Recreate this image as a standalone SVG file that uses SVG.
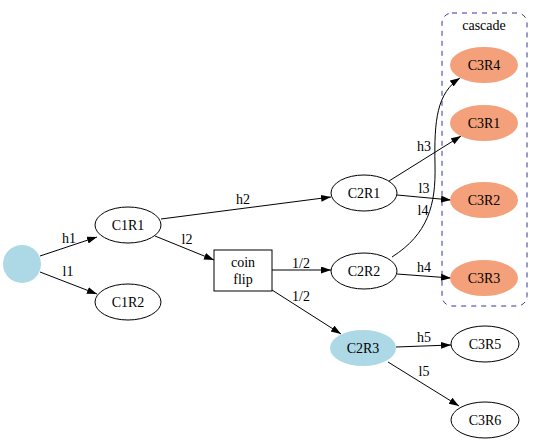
<svg xmlns="http://www.w3.org/2000/svg" width="540" height="445" viewBox="0 0 540 445" font-family="'Liberation Serif', 'Times New Roman', 'DejaVu Serif', serif">
<style>
text{font-family:'Liberation Serif','Times New Roman','DejaVu Serif',serif;font-size:14px;fill:#000;text-anchor:middle;dominant-baseline:central}
.n{fill:#fff;stroke:#000;stroke-width:1}
.o{fill:#f4a07a;stroke:none}
.b{fill:#add8e6;stroke:none}
.e{fill:none;stroke:#000;stroke-width:1;marker-end:url(#a)}
</style>
<defs>
<marker id="a" markerUnits="userSpaceOnUse" markerWidth="11" markerHeight="8" refX="10" refY="3.5" orient="auto"><path d="M0,0L10,3.5L0,7z" fill="#000"/></marker>
</defs>
<g id="cluster_cascade">
<rect x="442" y="13" width="85" height="293" rx="10" fill="none" stroke="#3535a0" stroke-dasharray="5,5"/>
<text x="484" y="25">cascade</text>
</g>
<g id="connectors">
<path class="e" d="M40,256L97,237"/>
<text x="69" y="238">h1</text>
<path class="e" d="M40,272L97,294"/>
<text x="68" y="271">l1</text>
<path class="e" d="M161,219L331,197"/>
<text x="243" y="199">h2</text>
<path class="e" d="M155,236L214,260"/>
<text x="187" y="239">l2</text>
<path class="e" d="M272,270L331,270"/>
<text x="301" y="263">1/2</text>
<path class="e" d="M272,290L341,334"/>
<text x="301" y="296">1/2</text>
<path class="e" d="M389,181L461,136"/>
<text x="424" y="146">h3</text>
<path class="e" d="M397,195L451,200"/>
<text x="424" y="188">l3</text>
<path class="e" d="M392,257C428,234 436,205 435,165C434,120 437,93 460,78"/>
<text x="423" y="210">l4</text>
<path class="e" d="M397,274L451,278"/>
<text x="424" y="267">h4</text>
<path class="e" d="M396,347L451,345"/>
<text x="424" y="337">h5</text>
<path class="e" d="M388,362L459,406"/>
<text x="424" y="371">l5</text>
</g>
<g id="start"><circle class="b" cx="22" cy="264" r="19"/></g>
<g id="C1R1"><ellipse class="n" cx="128" cy="225" rx="33" ry="18"/><text x="128" y="225">C1R1</text></g>
<g id="C1R2"><ellipse class="n" cx="128" cy="302" rx="33" ry="18"/><text x="128" y="302">C1R2</text></g>
<g id="coinflip"><rect class="n" x="214" y="250" width="58" height="41"/><text x="243" y="262">coin</text><text x="243" y="279">flip</text></g>
<g id="C2R1"><ellipse class="n" cx="364" cy="193" rx="33" ry="18"/><text x="364" y="193">C2R1</text></g>
<g id="C2R2"><ellipse class="n" cx="364" cy="271" rx="33" ry="18"/><text x="364" y="271">C2R2</text></g>
<g id="C2R3"><ellipse class="b" cx="363" cy="348" rx="33" ry="18"/><text x="363" y="348">C2R3</text></g>
<g id="C3R4"><ellipse class="o" cx="484" cy="65" rx="34" ry="18"/><text x="484" y="65">C3R4</text></g>
<g id="C3R1"><ellipse class="o" cx="484" cy="123" rx="34" ry="18"/><text x="484" y="123">C3R1</text></g>
<g id="C3R2"><ellipse class="o" cx="484" cy="200" rx="34" ry="18"/><text x="484" y="200">C3R2</text></g>
<g id="C3R3"><ellipse class="o" cx="484" cy="278" rx="34" ry="18"/><text x="484" y="278">C3R3</text></g>
<g id="C3R5"><ellipse class="n" cx="485" cy="344" rx="34" ry="18"/><text x="485" y="344">C3R5</text></g>
<g id="C3R6"><ellipse class="n" cx="485" cy="420" rx="34" ry="18"/><text x="485" y="420">C3R6</text></g>
</svg>
